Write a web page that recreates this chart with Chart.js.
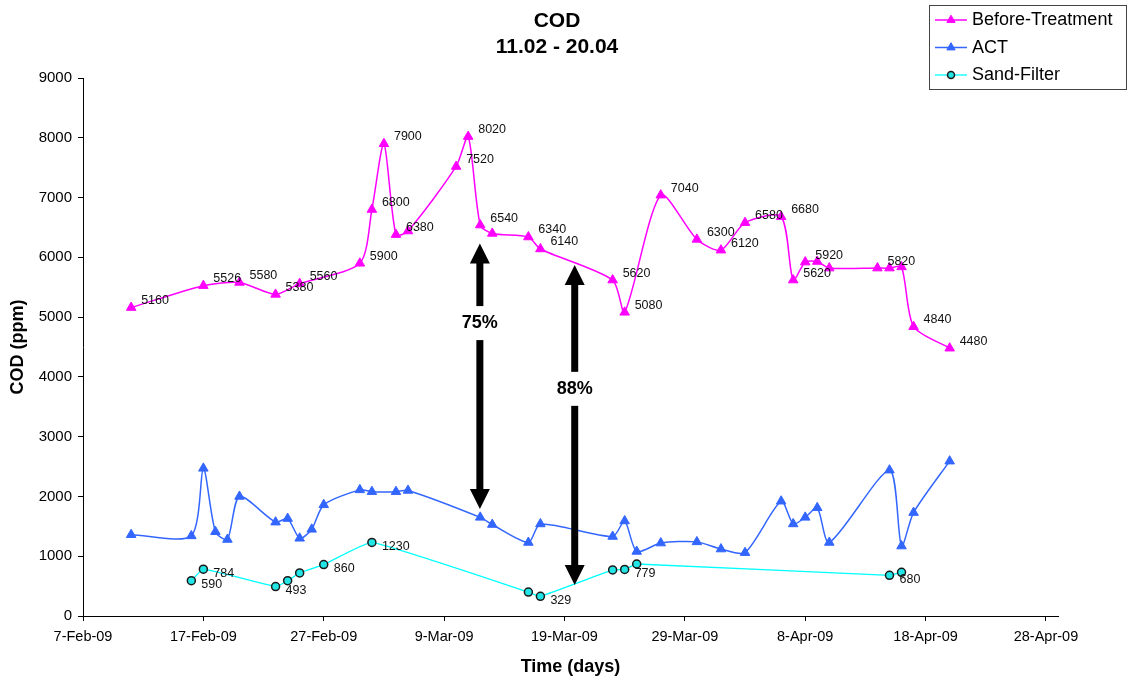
<!DOCTYPE html>
<html>
<head>
<meta charset="utf-8">
<title>COD 11.02 - 20.04</title>
<script src="https://cdn.jsdelivr.net/npm/chart.js@4/dist/chart.umd.min.js"></script>
<style>
  html, body { margin: 0; padding: 0; background: #ffffff; }
  #wrap { width: 1129px; height: 679px; position: relative; }
</style>
</head>
<body>
<div id="wrap"><canvas id="chart"></canvas></div>
<script>
// ---- Data ----
const beforeDates = ['2009-02-11','2009-02-17','2009-02-20','2009-02-23','2009-02-25','2009-03-02','2009-03-03','2009-03-04','2009-03-05','2009-03-06','2009-03-10','2009-03-11','2009-03-12','2009-03-13','2009-03-16','2009-03-17','2009-03-23','2009-03-24','2009-03-27','2009-03-30','2009-04-01','2009-04-03','2009-04-06','2009-04-07','2009-04-08','2009-04-09','2009-04-10','2009-04-14','2009-04-15','2009-04-16','2009-04-17','2009-04-20'];
const beforeValues = [5160,5526,5580,5380,5560,5900,6800,7900,6380,6440,7520,8020,6540,6400,6340,6140,5620,5080,7040,6300,6120,6580,6680,5620,5920,5930,5820,5820,5820,5840,4840,4480];
const beforeShown = [1,1,1,1,1,1,1,1,1,0,1,1,1,0,1,1,1,1,1,1,1,1,1,1,1,0,0,1,0,0,1,1];

const actDates = ['2009-02-11','2009-02-16','2009-02-17','2009-02-18','2009-02-19','2009-02-20','2009-02-23','2009-02-24','2009-02-25','2009-02-26','2009-02-27','2009-03-02','2009-03-03','2009-03-05','2009-03-06','2009-03-12','2009-03-13','2009-03-16','2009-03-17','2009-03-23','2009-03-24','2009-03-25','2009-03-27','2009-03-30','2009-04-01','2009-04-03','2009-04-06','2009-04-07','2009-04-08','2009-04-09','2009-04-10','2009-04-15','2009-04-16','2009-04-17','2009-04-20'];
const actValues = [1360,1340,2470,1410,1280,2000,1570,1630,1300,1450,1860,2110,2080,2080,2100,1650,1530,1230,1540,1330,1590,1080,1220,1240,1120,1060,1920,1540,1650,1810,1230,2440,1170,1730,2590];

const sandDates = ['2009-02-16','2009-02-17','2009-02-23','2009-02-24','2009-02-25','2009-02-27','2009-03-03','2009-03-16','2009-03-17','2009-03-23','2009-03-24','2009-03-25','2009-04-15','2009-04-16'];
const sandValues = [590,784,493,590,720,860,1230,400,329,770,779,870,680,730];
const sandShown = [1,1,1,0,0,1,1,0,1,0,1,0,1,0];

const xTickDates = ['2009-02-07','2009-02-17','2009-02-27','2009-03-09','2009-03-19','2009-03-29','2009-04-08','2009-04-18','2009-04-28'];
const xTickLabels = ['7-Feb-09','17-Feb-09','27-Feb-09','9-Mar-09','19-Mar-09','29-Mar-09','8-Apr-09','18-Apr-09','28-Apr-09'];

const titleLines = ['COD', '11.02 - 20.04'];

// Reduction arrows: date, top/bottom COD values, label position
const reductionArrows = [
  { date: '2009-03-12', shift: -0.03, top: 6230, bottom: 1790, textAt: 4900, text: '75%' },
  { date: '2009-03-19', shift: 0.85, top: 5870, bottom: 520, textAt: 3800, text: '88%' }
];

// ---- Helpers ----
const FONT = "'Liberation Sans', Arial, Helvetica, sans-serif";
const ORIGIN = Date.UTC(2009, 1, 7);
function dayOf(iso) {
  const [y, m, d] = iso.split('-').map(Number);
  return (Date.UTC(y, m - 1, d) - ORIGIN) / 86400000;
}
function toPoints(dates, values) {
  return dates.map((d, i) => ({ x: dayOf(d), y: values[i] }));
}
const xTickDays = xTickDates.map(dayOf);

const PINK = '#FF00FF';
const BLUE = '#3366FF';
const CYAN = '#00FFFF';

// Value labels next to selected points
const valueLabels = {
  0: { flags: beforeShown, dx: 10, dy: -7 },
  2: { flags: sandShown, dx: 10, dy: 4 }
};

const valueLabelPlugin = {
  id: 'valueLabels',
  afterDatasetsDraw(chart) {
    const ctx = chart.ctx;
    ctx.save();
    ctx.font = '12.5px ' + FONT;
    ctx.fillStyle = '#111';
    ctx.textAlign = 'left';
    ctx.textBaseline = 'middle';
    Object.keys(valueLabels).forEach(k => {
      const idx = Number(k);
      const cfg = valueLabels[k];
      const meta = chart.getDatasetMeta(idx);
      const ds = chart.data.datasets[idx];
      meta.data.forEach((pt, i) => {
        if (!cfg.flags[i]) return;
        ctx.fillText(String(ds.data[i].y), pt.x + cfg.dx, pt.y + cfg.dy);
      });
    });
    ctx.restore();
  }
};

const arrowPlugin = {
  id: 'reductionArrows',
  afterDatasetsDraw(chart) {
    const ctx = chart.ctx;
    const xs = chart.scales.x, ys = chart.scales.y;
    const headW = 20, headL = 20, shaftW = 7, gap = 17;
    ctx.save();
    ctx.fillStyle = '#000';
    reductionArrows.forEach(a => {
      const x = xs.getPixelForValue(dayOf(a.date) + a.shift);
      const yT = ys.getPixelForValue(a.top);
      const yB = ys.getPixelForValue(a.bottom);
      const yM = ys.getPixelForValue(a.textAt);
      ctx.beginPath();
      ctx.moveTo(x, yT);
      ctx.lineTo(x - headW / 2, yT + headL);
      ctx.lineTo(x + headW / 2, yT + headL);
      ctx.closePath();
      ctx.fill();
      ctx.beginPath();
      ctx.moveTo(x, yB);
      ctx.lineTo(x - headW / 2, yB - headL);
      ctx.lineTo(x + headW / 2, yB - headL);
      ctx.closePath();
      ctx.fill();
      ctx.fillRect(x - shaftW / 2, yT + headL - 1, shaftW, (yM - gap) - (yT + headL - 1));
      ctx.fillRect(x - shaftW / 2, yM + gap, shaftW, (yB - headL + 1) - (yM + gap));
      ctx.font = 'bold 18px ' + FONT;
      ctx.textAlign = 'center';
      ctx.textBaseline = 'middle';
      ctx.fillText(a.text, x, yM);
    });
    ctx.restore();
  }
};

const headingPlugin = {
  id: 'heading',
  afterDraw(chart) {
    const ctx = chart.ctx;
    ctx.save();
    ctx.font = 'bold 21px ' + FONT;
    ctx.fillStyle = '#000';
    ctx.textAlign = 'center';
    ctx.textBaseline = 'middle';
    ctx.fillText(titleLines[0], 557, 21);
    ctx.fillText(titleLines[1], 557, 47.5);
    ctx.restore();
  }
};

const legendBoxPlugin = {
  id: 'legendBox',
  afterDraw(chart) {
    const ctx = chart.ctx;
    const left = 929.5, top = 5.5, w = 197, h = 84;
    const rows = [20, 47.5, 75];
    ctx.save();
    ctx.fillStyle = '#fff';
    ctx.fillRect(left, top, w, h);
    ctx.strokeStyle = '#444';
    ctx.lineWidth = 1;
    ctx.strokeRect(left, top, w, h);
    chart.data.datasets.forEach((ds, i) => {
      const y = rows[i];
      ctx.strokeStyle = ds.borderColor;
      ctx.lineWidth = ds.borderWidth;
      ctx.beginPath();
      ctx.moveTo(935, y);
      ctx.lineTo(967, y);
      ctx.stroke();
      ctx.fillStyle = ds.pointBackgroundColor;
      ctx.strokeStyle = ds.pointBorderColor;
      ctx.lineWidth = ds.pointBorderWidth;
      ctx.beginPath();
      if (ds.pointStyle === 'circle') {
        ctx.arc(951, y, 3.5, 0, Math.PI * 2);
      } else {
        const r = 4.8;
        ctx.moveTo(951, y - r);
        ctx.lineTo(951 - r * 0.866, y + r * 0.5);
        ctx.lineTo(951 + r * 0.866, y + r * 0.5);
        ctx.closePath();
      }
      ctx.fill();
      ctx.stroke();
      ctx.fillStyle = '#000';
      ctx.font = '18px ' + FONT;
      ctx.textAlign = 'left';
      ctx.textBaseline = 'middle';
      ctx.fillText(ds.label, 972, y + 0.5);
    });
    ctx.restore();
  }
};

const ctx = document.getElementById('chart').getContext('2d');
new Chart(ctx, {
  type: 'line',
  data: {
    datasets: [
      {
        label: 'Before-Treatment',
        data: toPoints(beforeDates, beforeValues),
        borderColor: PINK,
        backgroundColor: PINK,
        pointBackgroundColor: PINK,
        pointBorderColor: PINK,
        borderWidth: 1.5,
        pointStyle: 'triangle',
        pointRadius: 5.5,
        pointBorderWidth: 1,
        tension: 0.25
      },
      {
        label: 'ACT',
        data: toPoints(actDates, actValues),
        borderColor: BLUE,
        backgroundColor: BLUE,
        pointBackgroundColor: BLUE,
        pointBorderColor: BLUE,
        borderWidth: 1.5,
        pointStyle: 'triangle',
        pointRadius: 5.5,
        pointBorderWidth: 1,
        tension: 0.25
      },
      {
        label: 'Sand-Filter',
        data: toPoints(sandDates, sandValues),
        borderColor: CYAN,
        backgroundColor: CYAN,
        pointBackgroundColor: '#22E6E6',
        pointBorderColor: '#1a1a1a',
        borderWidth: 1.3,
        pointStyle: 'circle',
        pointRadius: 4,
        pointBorderWidth: 1.5,
        tension: 0.1
      }
    ]
  },
  options: {
    responsive: true,
    maintainAspectRatio: false,
    animation: false,
    devicePixelRatio: 1,
    layout: { padding: { left: 0, right: 71, top: 78, bottom: 0 } },
    plugins: {
      legend: { display: false },
      title: { display: false },
      tooltip: { enabled: false }
    },
    scales: {
      x: {
        type: 'linear',
        min: 0,
        max: 81,
        afterBuildTicks: s => { s.ticks = xTickDays.map(v => ({ value: v })); },
        afterFit: s => { s.height = 63; },
        ticks: {
          autoSkip: false,
          maxRotation: 0,
          padding: 7,
          color: '#000',
          font: { family: FONT, size: 14.5 },
          callback: (v) => {
            const i = xTickDays.indexOf(v);
            return i >= 0 ? xTickLabels[i] : '';
          }
        },
        grid: { display: true, drawOnChartArea: false, drawTicks: true, tickLength: 5, color: '#000' },
        border: { display: true, color: '#000', width: 1 },
        title: {
          display: true,
          text: 'Time (days)',
          color: '#000',
          font: { family: FONT, size: 18, weight: 'bold' },
          padding: { top: 0, bottom: 1 }
        }
      },
      y: {
        min: 0,
        max: 9000,
        afterFit: s => { s.width = 83; },
        ticks: {
          stepSize: 1000,
          padding: 6,
          color: '#000',
          font: { family: FONT, size: 15 },
          callback: (v) => String(v)
        },
        grid: { display: true, drawOnChartArea: false, drawTicks: true, tickLength: 5, color: '#000' },
        border: { display: true, color: '#000', width: 1 },
        title: {
          display: true,
          text: 'COD (ppm)',
          color: '#000',
          font: { family: FONT, size: 18, weight: 'bold' },
          padding: { top: 7, bottom: 0 }
        }
      }
    }
  },
  plugins: [valueLabelPlugin, arrowPlugin, headingPlugin, legendBoxPlugin]
});
</script>
</body>
</html>
